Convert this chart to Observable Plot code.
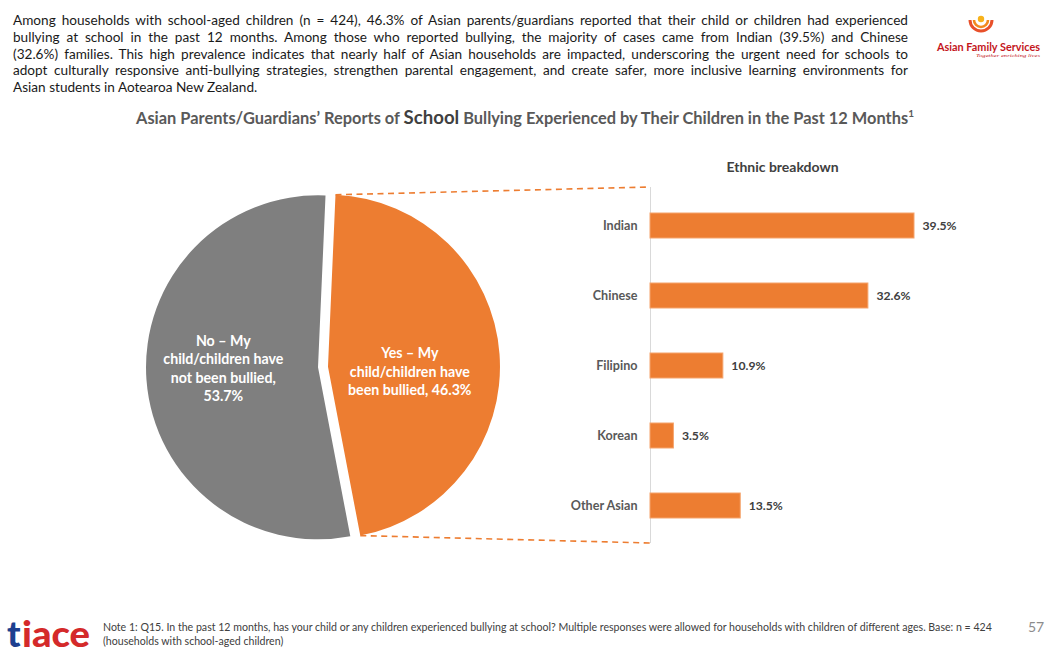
<!DOCTYPE html>
<html>
<head>
<meta charset="utf-8">
<script src="https://cdn.jsdelivr.net/npm/d3@7"></script>
<script src="https://cdn.jsdelivr.net/npm/@observablehq/plot@0.6"></script>
<style>
  html, body { margin: 0; padding: 0; background: #fff; }
  body { width: 1050px; height: 656px; position: relative; overflow: hidden; font-family: Lato, "Open Sans", sans-serif; }
  #para { position: absolute; left: 13px; top: 12px; width: 895px; font-size: 13.6px; line-height: 16.8px; color: #1a1a1a; }
  #para .jl { text-align: justify; text-align-last: justify; }
  #title { position: absolute; left: 0; width: 1050px; top: 101px; text-align: center; font-weight: bold; font-size: 16.4px; color: #595959; line-height: 24px; }
  #title .big { font-size: 18.6px; color: #404040; }
  #title sup { font-size: 10px; vertical-align: 7px; }
  #chart { position: absolute; left: 0; top: 140px; }
  #note { position: absolute; left: 103px; top: 620px; font-size: 10.6px; line-height: 14px; color: #404040; width: 940px; white-space: nowrap; }
  #page { position: absolute; left: 1028px; top: 618px; font-size: 14px; color: #8c8c8c; }
  #afs { position: absolute; left: 930px; top: 6px; }
  #tiace { position: absolute; left: 2px; top: 606px; overflow: visible; }
</style>
</head>
<body>
<div id="para">
  <div class="jl">Among households with school-aged children (n = 424), 46.3% of Asian parents/guardians reported that their child or children had experienced</div>
  <div class="jl">bullying at school in the past 12 months. Among those who reported bullying, the majority of cases came from Indian (39.5%) and Chinese</div>
  <div class="jl">(32.6%) families. This high prevalence indicates that nearly half of Asian households are impacted, underscoring the urgent need for schools to</div>
  <div class="jl">adopt culturally responsive anti-bullying strategies, strengthen parental engagement, and create safer, more inclusive learning environments for</div>
  <div>Asian students in Aotearoa New Zealand.</div>
</div>

<svg id="afs" width="120" height="56" viewBox="0 0 120 56">
  <path d="M40,14 A11,11 0 0 0 62,14" fill="none" stroke="#e8502a" stroke-width="3"/>
  <path d="M44,14 A7,7 0 0 0 58,14" fill="none" stroke="#f28a1e" stroke-width="2.6"/>
  <circle cx="51" cy="13" r="3.2" fill="#f7b21b"/>
  <text x="7" y="45" font-family="Lato, sans-serif" font-weight="bold" font-size="12" fill="#c4161c" textLength="103" lengthAdjust="spacingAndGlyphs">Asian Family Services</text>
  <text x="46" y="51" font-family="serif" font-style="italic" font-size="5" fill="#c4161c" textLength="64" lengthAdjust="spacingAndGlyphs">Together enriching lives</text>
</svg>

<div id="title">Asian Parents/Guardians’ Reports of <span class="big">School</span> Bullying Experienced by Their Children in the Past 12 Months<sup>1</sup></div>

<div id="chart"></div>

<svg id="tiace" width="100" height="48" viewBox="0 0 100 48">
  <text x="5" y="41" font-family="Lato, sans-serif" font-weight="900" font-size="36" fill="#1d3f8f">t</text>
  <text x="20" y="41" font-family="Lato, sans-serif" font-weight="900" font-size="36" fill="#d42a2a" textLength="68" lengthAdjust="spacingAndGlyphs">iace</text>
</svg>
<div id="note">Note 1: Q15. In the past 12 months, has your child or any children experienced bullying at school? Multiple responses were allowed for households with children of different ages. Base: n = 424<br>(households with school-aged children)</div>
<div id="page">57</div>

<script>
// ---- data ----
const pieCategories = ["Yes", "No"];
const pieValues = [46.3, 53.7];
const pieLabelTexts = [
  "Yes – My\nchild/children have\nbeen bullied, 46.3%",
  "No – My\nchild/children have\nnot been bullied,\n53.7%"
];
const pieColors = ["#ED7D31", "#7F7F7F"];

const ethnicGroups = ["Indian", "Chinese", "Filipino", "Korean", "Other Asian"];
const ethnicValues = [39.5, 32.6, 10.9, 3.5, 13.5];

const pieData = pieCategories.map((c, i) => ({category: c, value: pieValues[i], label: pieLabelTexts[i], color: pieColors[i]}));
const barData = ethnicGroups.map((g, i) => ({group: g, value: ethnicValues[i]}));

const ORANGE = "#ED7D31";

// custom pie mark (drawn with d3.pie / d3.arc inside Plot)
function pieMark(index, scales, values, dims) {
  const g = d3.create("svg:g");
  const cx = 323, cy = 227, r = 172, explode = 5;
  const start = 2.5 * Math.PI / 180;
  const arcs = d3.pie().sort(null).value(d => d.value)
    .startAngle(start).endAngle(start + 2 * Math.PI)(pieData);
  const arcGen = d3.arc().innerRadius(0).outerRadius(r);
  const frameLeft = dims.marginLeft;
  const frameTop = dims.marginTop;
  const frameBottom = dims.height - dims.marginBottom;

  arcs.forEach((a, i) => {
    const mid = (a.startAngle + a.endAngle) / 2;
    const ox = cx + Math.sin(mid) * explode;
    const oy = cy - Math.cos(mid) * explode;
    const gg = g.append("g").attr("transform", `translate(${ox},${oy})`);
    gg.append("path").attr("d", arcGen(a)).attr("fill", a.data.color);
    // label
    const lines = a.data.label.split("\n");
    const lx = Math.sin(mid) * (i === 0 ? 82 : 95);
    const t = gg.append("text")
      .attr("text-anchor", "middle")
      .attr("fill", "#fff")
      .attr("font-weight", "bold")
      .attr("font-size", 14.2)
      .attr("transform", `translate(${lx},${(i === 0 ? 5 : 1) - (lines.length - 1) * 18.5 / 2})`);
    lines.forEach((ln, k) => {
      t.append("tspan").attr("x", 0).attr("y", k * 18.5).attr("dy", "0.35em").text(ln);
    });
    // connectors from the "Yes" slice to the breakdown bars
    if (i === 0) {
      const p0 = [ox + Math.sin(a.startAngle) * r, oy - Math.cos(a.startAngle) * r];
      const p1 = [ox + Math.sin(a.endAngle) * r, oy - Math.cos(a.endAngle) * r];
      g.append("line").attr("x1", p0[0]).attr("y1", p0[1]).attr("x2", frameLeft).attr("y2", frameTop)
        .attr("stroke", ORANGE).attr("stroke-width", 1.6).attr("stroke-dasharray", "6,4.5");
      g.append("line").attr("x1", p1[0]).attr("y1", p1[1]).attr("x2", frameLeft).attr("y2", frameBottom)
        .attr("stroke", ORANGE).attr("stroke-width", 1.6).attr("stroke-dasharray", "6,4.5");
    }
  });
  return g.node();
}

const chart = Plot.plot({
  width: 1050,
  height: 440,
  marginLeft: 650,
  marginRight: 136,
  marginTop: 47,
  marginBottom: 37,
  style: {fontFamily: "Lato, 'Open Sans', sans-serif", background: "transparent", overflow: "visible"},
  x: {domain: [0, 39.5], axis: null},
  y: {domain: ethnicGroups, paddingInner: 0.643, paddingOuter: 0.36, axis: null},
  marks: [
    pieMark,
    Plot.ruleX([0], {stroke: "#d9d9d9", strokeWidth: 1}),
    Plot.barX(barData, {x: "value", y: "group", fill: ORANGE, stroke: "#F5A46C", strokeWidth: 1}),
    Plot.axisY({tickSize: 0, tickPadding: 13, fontSize: 12.6, fontWeight: "bold", color: "#595959", label: null}),
    Plot.text(barData, {x: "value", y: "group", text: d => d.value.toFixed(1) + "%", dx: 8, textAnchor: "start", fontSize: 12.2, fontWeight: "bold", fill: "#404040"}),
    Plot.text(["Ethnic breakdown"], {frameAnchor: "top", dy: -25, fontSize: 14, fontWeight: "bold", fill: "#404040"})
  ]
});
document.getElementById("chart").appendChild(chart);
</script>
</body>
</html>
